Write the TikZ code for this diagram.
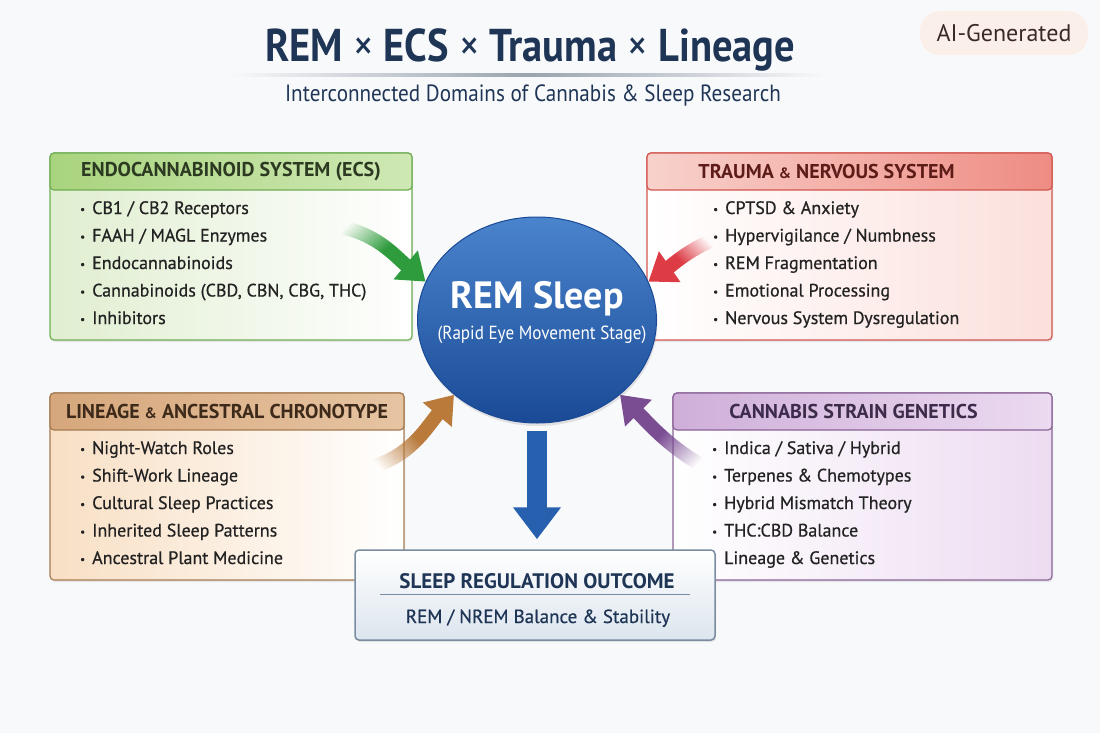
\documentclass[tikz,border=0pt]{standalone}
\usepackage{fontspec}
\setmainfont{PT Sans}
\newfontfamily\medfont{PT Sans}[FakeBold=0.6]
\newfontfamily\narrowfont{PT Sans}[FakeStretch=0.9]
\usetikzlibrary{arrows.meta,calc,positioning,shapes.geometric,shadows,fadings}
\definecolor{bg}{HTML}{F8F9FB}
\definecolor{ink}{HTML}{1F3556}
\definecolor{itemink}{HTML}{222222}
\definecolor{rule}{HTML}{9AA3AE}
\definecolor{greenline}{HTML}{6FAE54}
\definecolor{greenhead}{HTML}{A9D47E}
\definecolor{greenheadlight}{HTML}{CFE8B4}
\definecolor{greenfill}{HTML}{E0EED0}
\definecolor{greenink}{HTML}{2D3A22}
\definecolor{greenarrow}{HTML}{2E9B3C}
\definecolor{redline}{HTML}{D2564F}
\definecolor{redhead}{HTML}{EE8C83}
\definecolor{redheadlight}{HTML}{F8D2CC}
\definecolor{redfill}{HTML}{FBE0DC}
\definecolor{redink}{HTML}{5E1C18}
\definecolor{redarrow}{HTML}{DD3C45}
\definecolor{brownline}{HTML}{A67B52}
\definecolor{brownhead}{HTML}{D6A77C}
\definecolor{brownheadlight}{HTML}{E6C4A2}
\definecolor{brownfill}{HTML}{F8DFC4}
\definecolor{brownink}{HTML}{3E2A1A}
\definecolor{brownarrow}{HTML}{B97A3A}
\definecolor{purpleline}{HTML}{8A6397}
\definecolor{purplehead}{HTML}{CFAFD9}
\definecolor{purpleheadlight}{HTML}{EBDAF0}
\definecolor{purplefill}{HTML}{EDDCF1}
\definecolor{purpleink}{HTML}{3C2B4A}
\definecolor{purplearrow}{HTML}{7A4C92}
\definecolor{remtop}{HTML}{4A84CC}
\definecolor{rembot}{HTML}{1A4A96}
\definecolor{downarrow}{HTML}{2760AE}
\definecolor{outline}{HTML}{7A8CA0}
\definecolor{outfill}{HTML}{DCE5EE}
\definecolor{badgefill}{HTML}{FBEFE9}
\definecolor{badgeink}{HTML}{3A2A25}

\newcommand{\itm}{\makebox[12pt][l]{\raisebox{1pt}{\fontsize{11}{11}\selectfont\textbullet}}}
\newcommand{\noitm}{\makebox[12pt][l]{}}

\tikzfading[name=tailfade,left color=transparent!100,right color=transparent!0,
            middle color=transparent!0]

\begin{document}
\begin{tikzpicture}[
  x=1pt,y=-1pt,
  panel/.style={draw=#1line,left color=#1fill,right color=white,rounded corners=4pt,
                line width=1.2pt,anchor=center,
                drop shadow={opacity=0.15,shadow xshift=1pt,shadow yshift=-2pt}},
  head/.style={draw=#1line,left color=#1head,right color=#1headlight,rounded corners=4pt,
               line width=1.2pt,minimum height=37pt,text=#1ink,
               font=\fontsize{20}{22}\selectfont\bfseries},
  items/.style={anchor=north west,inner sep=0pt,align=left,text=itemink,
                font=\fontsize{18}{27.5}\medfont},
  flow/.style={line width=14pt,draw=#1arrow,-{Triangle[width=36pt,length=26pt]},
               path fading=tailfade}
]

% Background
\fill[bg] (0,0) rectangle (1100,733);

% Title
\node[anchor=base,text=ink,font=\fontsize{46}{50}\selectfont\bfseries\addfontfeature{FakeStretch=0.88}]
  (title) at (530,62) {REM {\mdseries ×} ECS {\mdseries ×} Trauma {\mdseries ×} Lineage};
\shade[left color=bg,right color=bg,middle color=rule] (230,74) rectangle (826,76.5);
\node[anchor=base,text=ink,font=\fontsize{23.5}{25}\narrowfont] (subtitle) at (533,102)
  {Interconnected Domains of Cannabis \& Sleep Research};
\node[fill=badgefill,rounded corners=20pt,minimum width=168pt,minimum height=44pt,
      text=badgeink,font=\fontsize{24}{25}\selectfont] (badge) at (1004,33) {AI-Generated};

% Domain panels
\node[panel=green,minimum width=362pt,minimum height=187pt] (ecs) at (231,246.5) {};
\node[head=green,minimum width=362pt] (ecshead) at (231,171.5) {ENDOCANNABINOID SYSTEM (ECS)};
\node[items] (ecsitems) at (80,201)
  {\itm CB1 / CB2 Receptors\\ \itm FAAH / MAGL Enzymes\\ \itm Endocannabinoids\\
   \itm Cannabinoids (CBD, CBN, CBG, THC)\\ \itm Inhibitors};

\node[panel=red,left color=white,right color=redfill,minimum width=405pt,minimum height=187pt]
  (trauma) at (849.5,246.5) {};
\node[head=red,left color=redheadlight,right color=redhead,minimum width=405pt]
  (traumahead) at (849.5,171.5)
  {TRAUMA {\fontsize{15}{16}\selectfont\&} NERVOUS SYSTEM\hspace*{46pt}};
\node[items] (traumaitems) at (713,201)
  {\itm CPTSD \& Anxiety\\ \itm Hypervigilance / Numbness\\ \itm REM Fragmentation\\
   \itm Emotional Processing\\ \itm Nervous System Dysregulation};

\node[panel=brown,minimum width=354pt,minimum height=187pt] (lineage) at (227,486.5) {};
\node[head=brown,minimum width=354pt] (lineagehead) at (227,411.5)
  {LINEAGE {\fontsize{15}{16}\selectfont\&} ANCESTRAL CHRONOTYPE};
\node[items] (lineageitems) at (80,441)
  {\itm Night-Watch Roles\\ \itm Shift-Work Lineage\\ \itm Cultural Sleep Practices\\
   \itm Inherited Sleep Patterns\\ \itm Ancestral Plant Medicine};

\node[panel=purple,left color=white,right color=purplefill,minimum width=379pt,minimum height=187pt]
  (strain) at (862.5,486.5) {};
\node[head=purple,left color=purplehead,right color=purpleheadlight,minimum width=379pt]
  (strainhead) at (862.5,411.5) {CANNABIS STRAIN GENETICS\hspace*{18pt}};
\node[items] (strainitems) at (712,441)
  {\itm Indica / Sativa / Hybrid\\ \itm Terpenes \& Chemotypes\\ \itm Hybrid Mismatch Theory\\
   \itm THC:CBD Balance\\ \noitm Lineage \& Genetics};

% Centre
\node[ellipse,minimum width=239pt,minimum height=206pt,inner sep=0pt,
      top color=remtop,bottom color=rembot,draw=rembot,line width=1pt,
      drop shadow={opacity=0.2,shadow xshift=1pt,shadow yshift=-3pt}] (rem) at (537,320) {};
\node[anchor=base,text=white,font=\fontsize{38}{40}\selectfont\bfseries] (remtitle) at (537,308)
  {REM Sleep};
\node[anchor=base,text=white,font=\fontsize{19}{20}\narrowfont] (remsub) at (542,339)
  {(Rapid Eye Movement Stage)};

% Outcome
\node[draw=outline,top color=white,bottom color=outfill,rounded corners=4pt,line width=1.5pt,
      minimum width=360pt,minimum height=90pt,
      drop shadow={opacity=0.18,shadow xshift=1pt,shadow yshift=-2pt}] (outcome) at (535,595) {};
\node[anchor=base,text=ink,font=\fontsize{21}{22}\selectfont\bfseries] (outtitle) at (537,588)
  {SLEEP REGULATION OUTCOME};
\draw[outline,line width=1pt] (380,594) -- (690,594);
\node[anchor=base,text=ink,font=\fontsize{19}{20}\medfont] (outsub) at (538,623)
  {REM / NREM Balance \& Stability};

% Arrows into REM sleep
\coordinate (ecstail) at (336,226);
\coordinate (traumatail) at (712,240);
\coordinate (lineagetail) at (368,468);
\coordinate (straintail) at (706,468);
\draw[flow=green,fading angle=-35] (ecstail) to[out=-10,in=140] (rem.161);
\draw[flow=red,fading angle=215] (traumatail) to[out=205,in=35] (rem.19);
\draw[flow=brown,fading angle=38] (lineagetail) to[out=15,in=230] (rem.222);
\draw[flow=purple,fading angle=141] (straintail) to[out=150,in=-45] (rem.318);

% Down to outcome
\draw[line width=20pt,draw=downarrow,-{Triangle[width=46pt,length=32pt]},
      shorten <=7pt,shorten >=10pt] (rem.south) -- (rem.south |- outcome.north);

\end{tikzpicture}
\end{document}
